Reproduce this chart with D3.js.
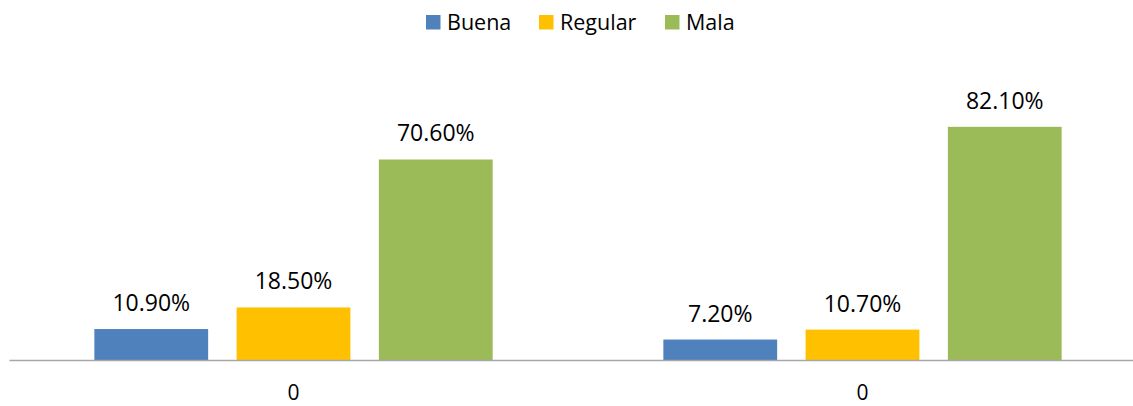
<!DOCTYPE html>
<html>
<head>
<meta charset="utf-8">
<script src="https://cdn.jsdelivr.net/npm/d3@7"></script>
<style>
  html, body { margin: 0; padding: 0; background: #fff; }
  svg { display: block; }
  text { font-family: "Open Sans", "Liberation Sans", sans-serif; fill: #000; }
</style>
</head>
<body>
<svg id="chart" width="1133" height="406"></svg>
<script>
// Categories along the x axis (both groups are labelled "0")
const groups = ["g1", "g2"];
const groupLabels = ["0", "0"];
// Series
const seriesNames = ["Buena", "Regular", "Mala"];
const seriesColors = ["#4F81BD", "#FFC000", "#9BBB59"];
// Percent values per series, one per group
const buena = [10.9, 7.2];
const regular = [18.5, 10.7];
const mala = [70.6, 82.1];
const seriesValues = [buena, regular, mala];

const svg = d3.select("#chart");

const plot = { left: 9, right: 1147, top: 104.4, bottom: 360 };

const x0 = d3.scaleBand().domain(groups).range([plot.left, plot.right]).padding(0);
const x1 = d3.scaleBand().domain(seriesNames).range([0, x0.bandwidth()]).paddingInner(0.2).paddingOuter(0.6);
const y = d3.scaleLinear().domain([0, 90]).range([plot.bottom, plot.top]);

// Bars with value labels
groups.forEach((g, gi) => {
  const gEl = svg.append("g").attr("transform", `translate(${x0(g)},0)`);
  seriesNames.forEach((s, si) => {
    const v = seriesValues[si][gi];
    gEl.append("rect")
      .attr("x", x1(s))
      .attr("y", y(v))
      .attr("width", x1.bandwidth())
      .attr("height", y(0) - y(v))
      .attr("fill", seriesColors[si]);
    gEl.append("text")
      .attr("x", x1(s) + x1.bandwidth() / 2)
      .attr("y", y(v) - 18)
      .attr("text-anchor", "middle")
      .style("font-size", "23px")
      .text(v.toFixed(2) + "%");
  });
});

// Category axis
const xAxis = d3.axisBottom(x0).tickSize(0).tickFormat((d, i) => groupLabels[i]);
const axisG = svg.append("g").attr("transform", `translate(0,${plot.bottom})`).call(xAxis);
axisG.select(".domain").attr("stroke", "#A6A6A6").attr("stroke-width", 1.5);
axisG.selectAll(".tick text")
  .attr("dy", 0).attr("y", 40)
  .style("font-size", "21px")
  .style("font-family", "'Open Sans', 'Liberation Sans', sans-serif")
  .attr("fill", "#000");

// Legend
const legendX = [426, 539, 665];
const legend = svg.append("g");
seriesNames.forEach((s, i) => {
  legend.append("rect").attr("x", legendX[i]).attr("y", 15).attr("width", 14.5).attr("height", 14.5).attr("fill", seriesColors[i]);
  legend.append("text").attr("x", legendX[i] + 21).attr("y", 29.5).style("font-size", "21.5px").text(s);
});
</script>
</body>
</html>
